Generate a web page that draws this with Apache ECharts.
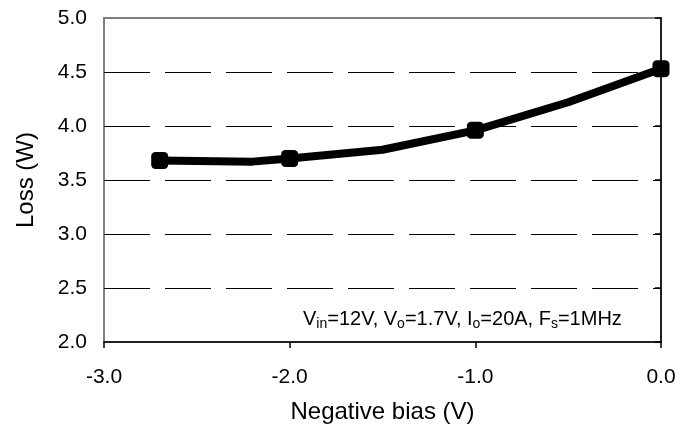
<!DOCTYPE html>
<html>
<head>
<meta charset="utf-8">
<script src="https://cdn.jsdelivr.net/npm/echarts@6/dist/echarts.min.js"></script>
<style>html,body{margin:0;padding:0;background:#fff;}#c{width:696px;height:439px;}</style>
</head>
<body>
<div id="c"></div>
<script>
// Data
const biasValues = [-2.7, -2.2, -2.0, -1.5, -1.0, -0.5, 0.0];
const lossValues = [3.68, 3.67, 3.70, 3.78, 3.96, 4.22, 4.53];
const hasMarker = [true, false, true, false, true, false, true];
const xTicks = [-3.0, -2.0, -1.0, 0.0];
const yTicks = [2.0, 2.5, 3.0, 3.5, 4.0, 4.5, 5.0];
const xName = 'Negative bias (V)';
const yName = 'Loss (W)';

const FONT = 'Liberation Sans, Arial, sans-serif';
const chart = echarts.init(document.getElementById('c'), null, {renderer: 'canvas'});

const seriesData = biasValues.map((x, i) => ({
  value: [x, lossValues[i]],
  symbol: hasMarker[i] ? 'roundRect' : 'none'
}));

chart.setOption({
  animation: false,
  backgroundColor: '#fff',
  grid: {
    left: 104, right: 35, top: 18, bottom: 97,
    show: true, borderColor: '#808080', borderWidth: 2, backgroundColor: 'transparent'
  },
  xAxis: {
    type: 'value',
    min: xTicks[0], max: xTicks[xTicks.length - 1], interval: 1,
    name: xName, nameLocation: 'middle', nameGap: 58,
    nameTextStyle: {fontFamily: FONT, fontSize: 24, color: '#000'},
    axisLine: {show: true, lineStyle: {color: '#000', width: 1.5}},
    axisTick: {show: true, inside: false, length: 6, lineStyle: {color: '#000', width: 1.5}},
    axisLabel: {fontFamily: FONT, fontSize: 21, color: '#000', margin: 25,
      formatter: v => v.toFixed(1)},
    splitLine: {show: false}
  },
  yAxis: {
    type: 'value',
    min: yTicks[0], max: yTicks[yTicks.length - 1], interval: 0.5,
    name: yName, nameLocation: 'middle', nameGap: 66,
    nameTextStyle: {fontFamily: FONT, fontSize: 24, color: '#000'},
    axisLine: {show: true, lineStyle: {color: '#000', width: 1.5}},
    axisTick: {show: true, inside: false, length: 6, lineStyle: {color: '#000', width: 1.5}},
    axisLabel: {fontFamily: FONT, fontSize: 21, color: '#000', margin: 17,
      formatter: v => v.toFixed(1)},
    splitLine: {show: true, showMinLine: false, showMaxLine: false,
      lineStyle: {color: '#000', width: 1, type: [46, 15], dashOffset: 0}}
  },
  series: [{
    type: 'line',
    data: seriesData,
    symbolSize: 17,
    lineStyle: {color: '#000', width: 8},
    itemStyle: {color: '#000'},
    z: 5
  }],
  graphic: [{
    type: 'text',
    left: 303, top: 309,
    style: {
      text: 'V{sub|in}=12V, V{sub|o}=1.7V, I{sub|o}=20A, F{sub|s}=1MHz',
      font: '20px ' + FONT,
      fill: '#000',
      rich: {
        sub: {fontSize: 14, fontFamily: FONT, fill: '#000', padding: [10, 0, 0, 0]}
      }
    }
  }]
});
</script>
</body>
</html>
